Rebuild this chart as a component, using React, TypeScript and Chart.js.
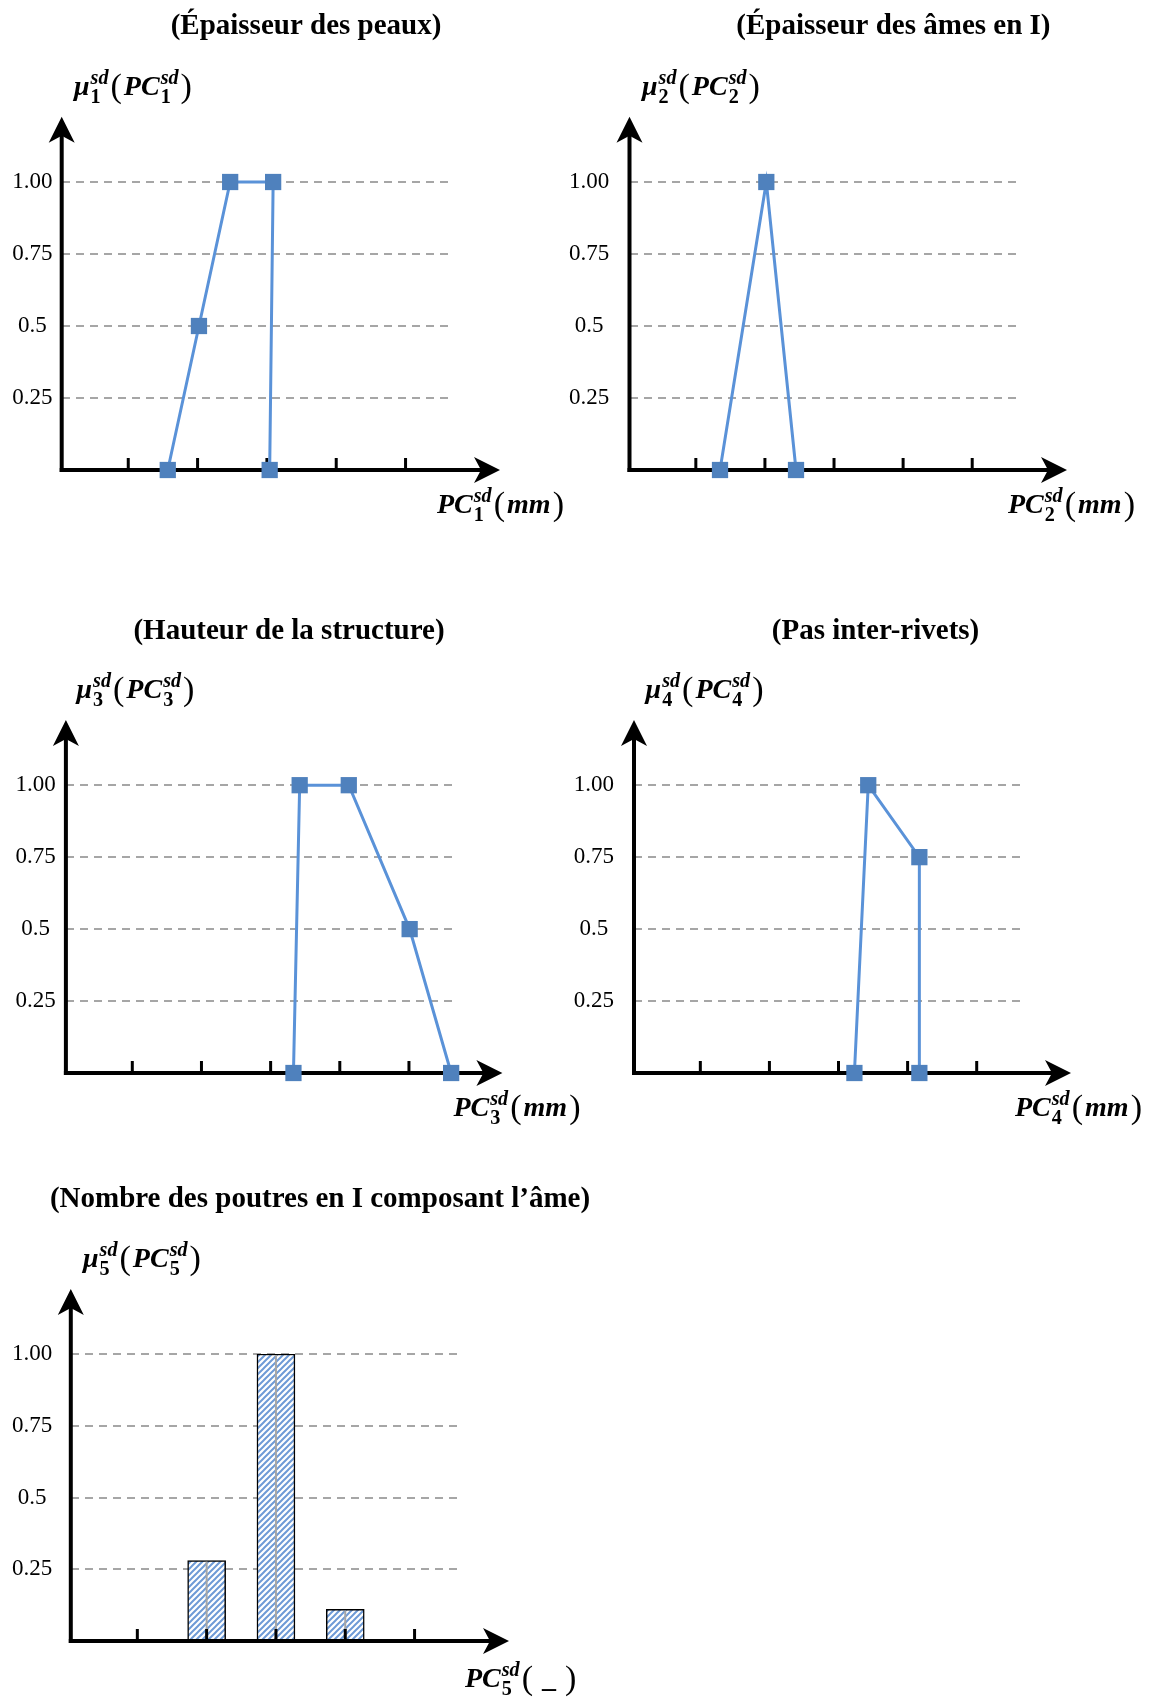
import React, { useEffect, useRef } from 'react';
import { Chart, registerables } from 'chart.js';

Chart.register(...registerables);

// ---------------- data ----------------
const titles = [
  '(Épaisseur des peaux)',
  '(Épaisseur des âmes en I)',
  '(Hauteur de la structure)',
  '(Pas inter-rivets)',
  '(Nombre des poutres en I composant l’âme)',
];
const indices = ['1', '2', '3', '4', '5'];
const xUnits = ['mm', 'mm', 'mm', 'mm', '_'];

const yTickValues = [0.25, 0.5, 0.75, 1];
const yTickLabels = ['0.25', '0.5', '0.75', '1.00'];
const xTickValues = [1, 2, 3, 4, 5];

const peauxX = [1.57, 2.02, 2.47, 3.09, 3.04];
const peauxY = [0, 0.5, 1, 1, 0];
const amesX = [1.35, 2.02, 2.45];
const amesY = [0, 1, 0];
const hauteurX = [3.33, 3.42, 4.13, 5.01, 5.61];
const hauteurY = [0, 1, 1, 0.5, 0];
const pasX = [3.23, 3.43, 4.17, 4.17];
const pasY = [0, 1, 0.75, 0];
const poutresX = [2, 3, 4];
const poutresY = [0.28, 1, 0.11];

const lineSeriesX = [peauxX, amesX, hauteurX, pasX];
const lineSeriesY = [peauxY, amesY, hauteurY, pasY];

// ---------------- layout / style ----------------
const W = 1149;
const H = 1697;
const X_MIN = 0.04;
const X_MAX = 5.67;
const LINE_COLOR = '#5A92D8';
const MARKER_COLOR = '#4F81BD';
const GRID_COLOR = '#A6A6A6';
const SERIF = '"Liberation Serif", "Times New Roman", serif';
const TICK_FONT = 23;

type PanelLayout = {
  axisX: number; gridRight: number; arrowX: number; tipY: number; y1: number; y0: number;
  titleX: number; titleY: number; yLabX: number; yLabY: number; xLabX: number; xLabY: number; tickPad: number;
};

const layouts: PanelLayout[] = [
  { axisX: 61.7, gridRight: 452, arrowX: 500, tipY: 116.7, y1: 182, y0: 470, titleX: 306, titleY: 34, yLabX: 74, yLabY: 95, xLabX: 437, xLabY: 513, tickPad: 9.3 },
  { axisX: 629.5, gridRight: 1018.5, arrowX: 1067, tipY: 116.7, y1: 182, y0: 470, titleX: 893.4, titleY: 34, yLabX: 642, yLabY: 95, xLabX: 1008, xLabY: 513, tickPad: 20.3 },
  { axisX: 65.9, gridRight: 455.3, arrowX: 502.4, tipY: 720, y1: 785.2, y0: 1073, titleX: 289, titleY: 639, yLabX: 76.5, yLabY: 698, xLabX: 453.5, xLabY: 1116, tickPad: 10.1 },
  { axisX: 634, gridRight: 1023, arrowX: 1071, tipY: 720, y1: 785.2, y0: 1073, titleX: 875.5, titleY: 639, yLabX: 645.6, yLabY: 698, xLabX: 1015, xLabY: 1116, tickPad: 20.1 },
  { axisX: 70.8, gridRight: 461, arrowX: 509, tipY: 1289, y1: 1354, y0: 1641, titleX: 320, titleY: 1207, yLabX: 83, yLabY: 1267, xLabX: 465, xLabY: 1687, tickPad: 18.6 },
];

type Tok = { b: string; it?: boolean; paren?: boolean; sup?: string; sub?: string; gap?: number };

function drawMath(ctx: CanvasRenderingContext2D, toks: Tok[], x: number, y: number, size: number) {
  let cx = x;
  ctx.fillStyle = '#000';
  ctx.textBaseline = 'alphabetic';
  ctx.textAlign = 'left';
  for (const t of toks) {
    if (t.paren) {
      const ps = size * 1.22;
      ctx.font = `${ps}px ${SERIF}`;
      cx += 2;
      ctx.fillText(t.b, cx, y + size * 0.08);
      cx += ctx.measureText(t.b).width + 2;
      continue;
    }
    ctx.font = `${t.it ? 'italic ' : ''}bold ${size}px ${SERIF}`;
    ctx.fillText(t.b, cx, y);
    cx += ctx.measureText(t.b).width;
    let w = 0;
    const ss = size * 0.72;
    if (t.sup) {
      ctx.font = `italic bold ${ss}px ${SERIF}`;
      ctx.fillText(t.sup, cx + 1, y - size * 0.38);
      w = Math.max(w, ctx.measureText(t.sup).width + 1);
    }
    if (t.sub) {
      ctx.font = `bold ${ss}px ${SERIF}`;
      ctx.fillText(t.sub, cx + 1, y + size * 0.3);
      w = Math.max(w, ctx.measureText(t.sub).width + 1);
    }
    cx += w + (t.gap || 0);
  }
}

function drawAxes(chart: any, p: PanelLayout) {
  const ctx: CanvasRenderingContext2D = chart.ctx;
  const xs = chart.scales.x;
  ctx.save();
  ctx.fillStyle = '#000';
  ctx.strokeStyle = '#000';
  ctx.lineWidth = 4;
  ctx.setLineDash([]);
  ctx.beginPath();
  ctx.moveTo(p.axisX, p.y0 + 2);
  ctx.lineTo(p.axisX, p.tipY + 18);
  ctx.stroke();
  ctx.beginPath();
  ctx.moveTo(p.axisX - 2, p.y0);
  ctx.lineTo(p.arrowX - 18, p.y0);
  ctx.stroke();
  ctx.beginPath();
  ctx.moveTo(p.axisX, p.tipY);
  ctx.lineTo(p.axisX + 13, p.tipY + 26);
  ctx.lineTo(p.axisX, p.tipY + 19);
  ctx.lineTo(p.axisX - 13, p.tipY + 26);
  ctx.closePath();
  ctx.fill();
  ctx.beginPath();
  ctx.moveTo(p.arrowX, p.y0);
  ctx.lineTo(p.arrowX - 26, p.y0 - 13);
  ctx.lineTo(p.arrowX - 19, p.y0);
  ctx.lineTo(p.arrowX - 26, p.y0 + 13);
  ctx.closePath();
  ctx.fill();
  ctx.lineWidth = 3;
  for (const v of xTickValues) {
    const px = xs.getPixelForValue(v);
    ctx.beginPath();
    ctx.moveTo(px, p.y0);
    ctx.lineTo(px, p.y0 - 12);
    ctx.stroke();
  }
  ctx.restore();
}

function drawTexts(chart: any, idx: number, p: PanelLayout) {
  const ctx: CanvasRenderingContext2D = chart.ctx;
  ctx.save();
  ctx.fillStyle = '#000';
  ctx.font = `bold 29px ${SERIF}`;
  ctx.textAlign = 'center';
  ctx.textBaseline = 'alphabetic';
  ctx.fillText(titles[idx], p.titleX, p.titleY);
  const n = indices[idx];
  drawMath(ctx, [
    { b: 'μ', it: true, sup: 'sd', sub: n },
    { b: '(', paren: true },
    { b: 'PC', it: true, sup: 'sd', sub: n },
    { b: ')', paren: true },
  ], p.yLabX, p.yLabY, 28);
  const unit = xUnits[idx];
  drawMath(ctx, [
    { b: 'PC', it: true, sup: 'sd', sub: n },
    { b: '(', paren: true },
    unit === '_' ? { b: ' _ ', it: false } : { b: unit, it: true },
    { b: ')', paren: true },
  ], p.xLabX, p.xLabY, 28);
  ctx.restore();
}

function makeHatch(ctx: CanvasRenderingContext2D) {
  const c = document.createElement('canvas');
  c.width = 6;
  c.height = 6;
  const g = c.getContext('2d') as CanvasRenderingContext2D;
  g.fillStyle = '#ffffff';
  g.fillRect(0, 0, 6, 6);
  g.strokeStyle = '#6E9AD6';
  g.lineWidth = 2;
  g.beginPath();
  g.moveTo(-1, 7); g.lineTo(7, -1);
  g.moveTo(-1, 1); g.lineTo(1, -1);
  g.moveTo(5, 7); g.lineTo(7, 5);
  g.stroke();
  return ctx.createPattern(c, 'repeat');
}

function buildConfig(idx: number, ctx: CanvasRenderingContext2D): any {
  const p = layouts[idx];
  const isBar = idx === 4;
  const yScale = {
    type: 'linear',
    min: 0,
    max: 1,
    afterFit: (s: any) => { s.width = p.axisX; },
    afterBuildTicks: (s: any) => { s.ticks = yTickValues.map((v) => ({ value: v })); },
    ticks: {
      callback: (v: number) => yTickLabels[yTickValues.indexOf(v)],
      font: { family: SERIF, size: TICK_FONT },
      color: '#000',
      crossAlign: 'center',
      padding: p.tickPad,
    },
    grid: { color: GRID_COLOR, lineWidth: 2, drawTicks: false },
    border: { display: false, dash: [8, 6] },
  };
  const xScale = { type: 'linear', display: false, min: X_MIN, max: X_MAX, offset: false };
  const decor = {
    id: 'decor' + idx,
    beforeDatasetsDraw: (chart: any) => { if (!isBar) drawAxes(chart, p); },
    afterDatasetsDraw: (chart: any) => {
      if (isBar) {
        const c: CanvasRenderingContext2D = chart.ctx;
        const meta = chart.getDatasetMeta(0);
        c.save();
        c.strokeStyle = GRID_COLOR;
        c.lineWidth = 2;
        for (const el of meta.data) {
          c.beginPath();
          c.moveTo(el.x, el.y + 1);
          c.lineTo(el.x, el.base);
          c.stroke();
        }
        c.restore();
        drawAxes(chart, p);
      }
    },
    afterDraw: (chart: any) => drawTexts(chart, idx, p),
  };
  const common = {
    responsive: false,
    animation: false,
    events: [],
    layout: { padding: { left: 0, top: p.y1, right: W - p.gridRight, bottom: H - p.y0 } },
    plugins: { legend: { display: false }, tooltip: { enabled: false }, title: { display: false } },
    scales: { x: xScale, y: yScale },
  };
  if (isBar) {
    return {
      type: 'bar',
      data: {
        datasets: [{
          data: poutresX.map((x, i) => ({ x, y: poutresY[i] })),
          backgroundColor: makeHatch(ctx),
          borderColor: '#000',
          borderWidth: 1.5,
          borderSkipped: false,
          barThickness: 38,
        }],
      },
      options: common,
      plugins: [decor],
    };
  }
  const xs = lineSeriesX[idx];
  const ys = lineSeriesY[idx];
  return {
    type: 'line',
    data: {
      datasets: [{
        data: xs.map((x, i) => ({ x, y: ys[i] })),
        borderColor: LINE_COLOR,
        borderWidth: 3,
        tension: 0,
        fill: false,
        clip: false,
        pointStyle: 'rect',
        pointRadius: 11.5,
        pointBackgroundColor: MARKER_COLOR,
        pointBorderWidth: 0,
      }],
    },
    options: common,
    plugins: [decor],
  };
}

function Panel({ idx }: { idx: number }) {
  const ref = useRef<HTMLCanvasElement | null>(null);
  useEffect(() => {
    const canvas = ref.current as HTMLCanvasElement;
    const ctx = canvas.getContext('2d') as CanvasRenderingContext2D;
    const chart = new Chart(ctx, buildConfig(idx, ctx));
    return () => chart.destroy();
  }, [idx]);
  return (
    <canvas
      ref={ref}
      width={W}
      height={H}
      style={{ position: 'absolute', left: 0, top: 0, width: W, height: H, display: 'block' }}
    />
  );
}

export default function App() {
  return (
    <div style={{ position: 'absolute', left: 0, top: 0, width: W, height: H, background: '#fff', overflow: 'hidden' }}>
      {[0, 1, 2, 3, 4].map((i) => (
        <Panel key={i} idx={i} />
      ))}
    </div>
  );
}
